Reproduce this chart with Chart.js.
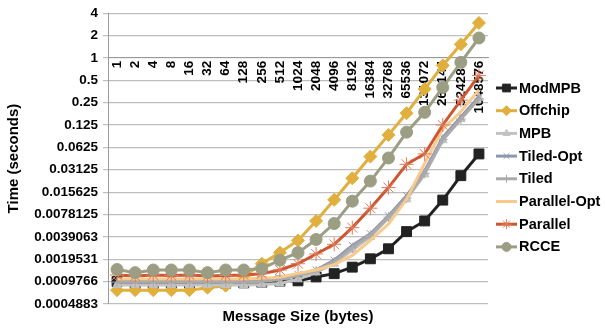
<!DOCTYPE html>
<html>
<head>
<meta charset="utf-8">
<script src="https://cdn.jsdelivr.net/npm/chart.js@4/dist/chart.umd.min.js"></script>
<style>
  html, body { margin: 0; padding: 0; background: #fff; }
</style>
</head>
<body>
<canvas id="timeChart" width="605" height="328"></canvas>
<script>
const messageSizes = ['1', '2', '4', '8', '16', '32', '64', '128', '256', '512', '1024', '2048', '4096',
    '8192', '16384', '32768', '65536', '131072', '262144', '524288', '1048576'];

const yTickValues = [4, 2, 1, 0.5, 0.25, 0.125, 0.0625, 0.03125, 0.015625, 0.0078125,
    0.00390625, 0.001953125, 0.0009765625, 0.00048828125];
const yTickLabels = ['4', '2', '1', '0.5', '0.25', '0.125', '0.0625', '0.03125', '0.015625', '0.0078125',
    '0.0039063', '0.0019531', '0.0009766', '0.0004883'];

const seriesNames = ['ModMPB', 'Offchip', 'MPB', 'Tiled-Opt', 'Tiled', 'Parallel-Opt', 'Parallel', 'RCCE'];

const modMPB = [0.00098, 0.00092, 0.00092, 0.00093, 0.00093, 0.00092, 0.00093, 0.00094, 0.00096, 0.00099, 0.00100,
    0.00113, 0.00125, 0.00153, 0.00198, 0.0027, 0.0046, 0.0064, 0.0122, 0.026, 0.051];
const offchip = [0.00075, 0.00075, 0.00075, 0.00075, 0.00075, 0.00081, 0.00086, 0.00115, 0.0017, 0.0024, 0.0035,
    0.0064, 0.0123, 0.024, 0.047, 0.092, 0.18, 0.38, 0.79, 1.52, 2.95];
const mpb = [0.00088, 0.00088, 0.00088, 0.00088, 0.00088, 0.00088, 0.00088, 0.00088, 0.00089, 0.00092, 0.00105,
    0.0013, 0.0017, 0.0026, 0.0039, 0.007, 0.0125, 0.027, 0.078, 0.15, 0.29];
const tiledOpt = [0.00100, 0.00100, 0.00100, 0.00100, 0.00100, 0.00100, 0.00100, 0.00100, 0.00102, 0.00108, 0.00122,
    0.0014, 0.0019, 0.0030, 0.0043, 0.0075, 0.014, 0.030, 0.085, 0.16, 0.30];
const tiled = [0.00096, 0.00096, 0.00096, 0.00096, 0.00096, 0.00096, 0.00096, 0.00096, 0.00098, 0.00104, 0.00118,
    0.00135, 0.0018, 0.0028, 0.0041, 0.0072, 0.013, 0.028, 0.08, 0.15, 0.28];
const parallelOpt = [0.00106, 0.00106, 0.00106, 0.00106, 0.00106, 0.00106, 0.00106, 0.00106, 0.00108, 0.00112, 0.00126,
    0.0014, 0.00165, 0.0022, 0.0035, 0.0058, 0.0125, 0.038, 0.11, 0.19, 0.37];
const parallel = [0.0012, 0.00116, 0.0012, 0.00118, 0.0012, 0.00116, 0.00118, 0.0012, 0.00125, 0.0014, 0.0017,
    0.0023, 0.0031, 0.0052, 0.0095, 0.018, 0.037, 0.051, 0.125, 0.27, 0.58];
const rcce = [0.00142, 0.00129, 0.0014, 0.0014, 0.0014, 0.00129, 0.0014, 0.0014, 0.00146, 0.0019, 0.0024,
    0.0036, 0.0059, 0.0118, 0.022, 0.045, 0.10, 0.185, 0.40, 0.87, 1.85];

const FONT = '"Liberation Sans", Arial, sans-serif';

// style per series: color, point style, radius on plot, radius in legend
const styles = [
    { data: modMPB, color: '#222222', point: 'rect', r: 7, lr: 5.5 },
    { data: offchip, color: '#E0AF3E', point: 'rectRot', r: 6.5, lr: 5 },
    { data: mpb, color: '#C2C2C2', point: 'triangle', r: 5, lr: 4 },
    { data: tiledOpt, color: '#9098AE', point: 'crossRot', r: 5, lr: 4 },
    { data: tiled, color: '#AAAAAA', point: 'cross', r: 5, lr: 4 },
    { data: parallelOpt, color: '#F8CA8B', point: false, r: 0, lr: 0 },
    { data: parallel, color: '#CD5530', point: 'star', r: 7, lr: 5, pointColor: '#E07A58' },
    { data: rcce, color: '#9B9E83', point: 'circle', r: 6, lr: 4.5 }
];

const datasets = styles.map((s, i) => ({
    label: seriesNames[i],
    data: s.data,
    borderColor: s.color,
    backgroundColor: s.color,
    borderWidth: 3,
    pointStyle: s.point,
    pointRadius: s.r,
    pointHoverRadius: s.r,
    pointBackgroundColor: s.pointColor || s.color,
    pointBorderColor: s.pointColor || s.color,
    pointBorderWidth: 1,
    tension: 0,
    fill: false,
    order: styles.length - 1 - i
}));

// legend with a short line and marker, like the spreadsheet one
const lineLegend = {
    id: 'lineLegend',
    afterDraw(chart) {
        const ctx = chart.ctx;
        const x0 = chart.chartArea.right + 8;
        ctx.save();
        chart.data.datasets.forEach((ds, i) => {
            const y = 88 + i * 22.7;
            ctx.strokeStyle = ds.borderColor;
            ctx.lineWidth = 3;
            ctx.beginPath();
            ctx.moveTo(x0, y);
            ctx.lineTo(x0 + 21, y);
            ctx.stroke();
            if (styles[i].point) {
                ctx.fillStyle = ds.pointBackgroundColor;
                ctx.strokeStyle = ds.pointBorderColor;
                ctx.lineWidth = 1;
                Chart.helpers.drawPoint(ctx, { pointStyle: styles[i].point, radius: styles[i].lr, rotation: 0, borderWidth: 1 }, x0 + 10.5, y);
            }
            ctx.fillStyle = '#000';
            ctx.font = 'bold 14.5px ' + FONT;
            ctx.textBaseline = 'middle';
            ctx.textAlign = 'left';
            ctx.fillText(ds.label, x0 + 23, y + 0.5);
        });
        ctx.restore();
    }
};

const tickFont = { family: FONT, size: 13.5, weight: 'bold' };
const titleFont = { family: FONT, size: 15, weight: 'bold' };

new Chart(document.getElementById('timeChart'), {
    type: 'line',
    data: { labels: messageSizes, datasets: datasets },
    plugins: [lineLegend],
    options: {
        responsive: false,
        animation: false,
        layout: { padding: { top: 10, right: 117, bottom: 0, left: 0 } },
        plugins: { legend: { display: false }, tooltip: { enabled: false } },
        scales: {
            x: {
                type: 'category',
                position: { y: 1 },
                offset: true,
                grid: { display: false, drawTicks: false },
                border: { display: true, color: '#9a9a9a', width: 1 },
                ticks: { autoSkip: false, minRotation: 90, maxRotation: 90, padding: 3, color: '#000', font: tickFont }
            },
            x2: {
                type: 'category',
                labels: messageSizes,
                position: 'bottom',
                grid: { display: false, drawTicks: false },
                border: { display: false },
                ticks: { display: false },
                title: { display: true, text: 'Message Size (bytes)', color: '#000', font: titleFont, padding: { top: 4, bottom: 2 } }
            },
            y: {
                type: 'logarithmic',
                min: yTickValues[yTickValues.length - 1],
                max: yTickValues[0],
                afterBuildTicks: (scale) => { scale.ticks = yTickValues.map(v => ({ value: v })); },
                afterFit: (scale) => { scale.width = 108; },
                grid: { color: '#BEBEBE', lineWidth: 1.2, tickLength: 5 },
                border: { display: true, color: '#9a9a9a', width: 1 },
                ticks: {
                    autoSkip: false,
                    padding: 5,
                    color: '#000',
                    font: tickFont,
                    callback: (v) => yTickLabels[yTickValues.indexOf(v)]
                },
                title: { display: true, text: 'Time (seconds)', color: '#000', font: titleFont, padding: { top: 5, bottom: 0 } }
            }
        }
    }
});
</script>
</body>
</html>
